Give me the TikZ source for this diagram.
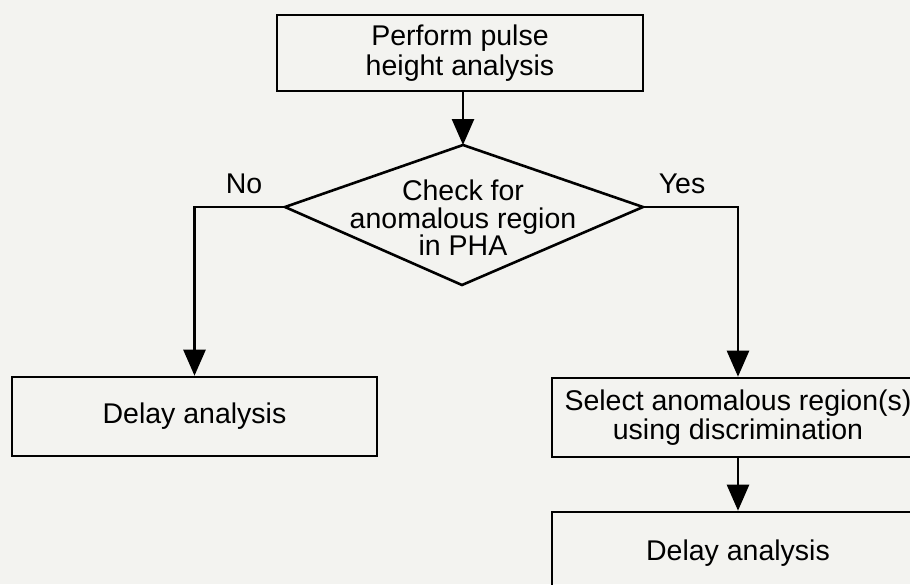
\documentclass[tikz,border=0pt]{standalone}
\usepackage{fontspec}
\setmainfont{Liberation Sans}
\usetikzlibrary{arrows.meta}
\definecolor{paper}{HTML}{F3F3F0}
\begin{document}
\begin{tikzpicture}[x=1pt,y=-1pt,
  every node/.style={font=\fontsize{28.5}{29}\selectfont, align=center},
  procbox/.style={draw=black, line width=2.6pt, inner sep=0pt},
  flow/.style={draw=black, line width=2.6pt, -{Triangle[length=26pt,width=22pt]}},
  plain/.style={draw=black, line width=2.6pt},
  lbl/.style={inner sep=0pt, anchor=base}]
\fill[paper] (0,0) rectangle (910,584);
\useasboundingbox (0,0) rectangle (910,584);
% top box
\node[procbox, minimum width=366pt, minimum height=76pt, font=\fontsize{28.5}{30}\selectfont] (pha) at (460,53) {Perform pulse\\height analysis};
% diamond
\coordinate (dt) at (463,145);
\coordinate (dl) at (285,207);
\coordinate (dr) at (643,207);
\coordinate (db) at (462,285);
\draw[plain, line join=miter] (dt) -- (dr) -- (db) -- (dl) -- cycle;
\node[inner sep=0pt, font=\fontsize{28.5}{27.5}\selectfont] (chk) at (463,218) {Check for\\anomalous region\\in PHA};
% left branch
\node[procbox, minimum width=365pt, minimum height=79pt] (dl1) at (194.5,416.5) {Delay analysis};
% right branch
\node[procbox, minimum width=372pt, minimum height=79pt] (sel) at (738,417.5) {Select anomalous region(s)\\using discrimination};
\node[procbox, minimum width=372pt, minimum height=82pt] (dl2) at (738,553) {Delay analysis};
% labels
\node[lbl] (no) at (244,193) {No};
\node[lbl] (yes) at (682,193) {Yes};
% connectors
\draw[flow] (pha.south -| dt) -- (dt);
\draw[flow, line join=miter] (dl) -- (dl -| dl1.north) -- (dl1.north);
\draw[flow, line join=miter] (dr) -- (dr -| sel.north) -- (sel.north);
\draw[flow] (sel.south) -- (dl2.north);
\end{tikzpicture}
\end{document}
